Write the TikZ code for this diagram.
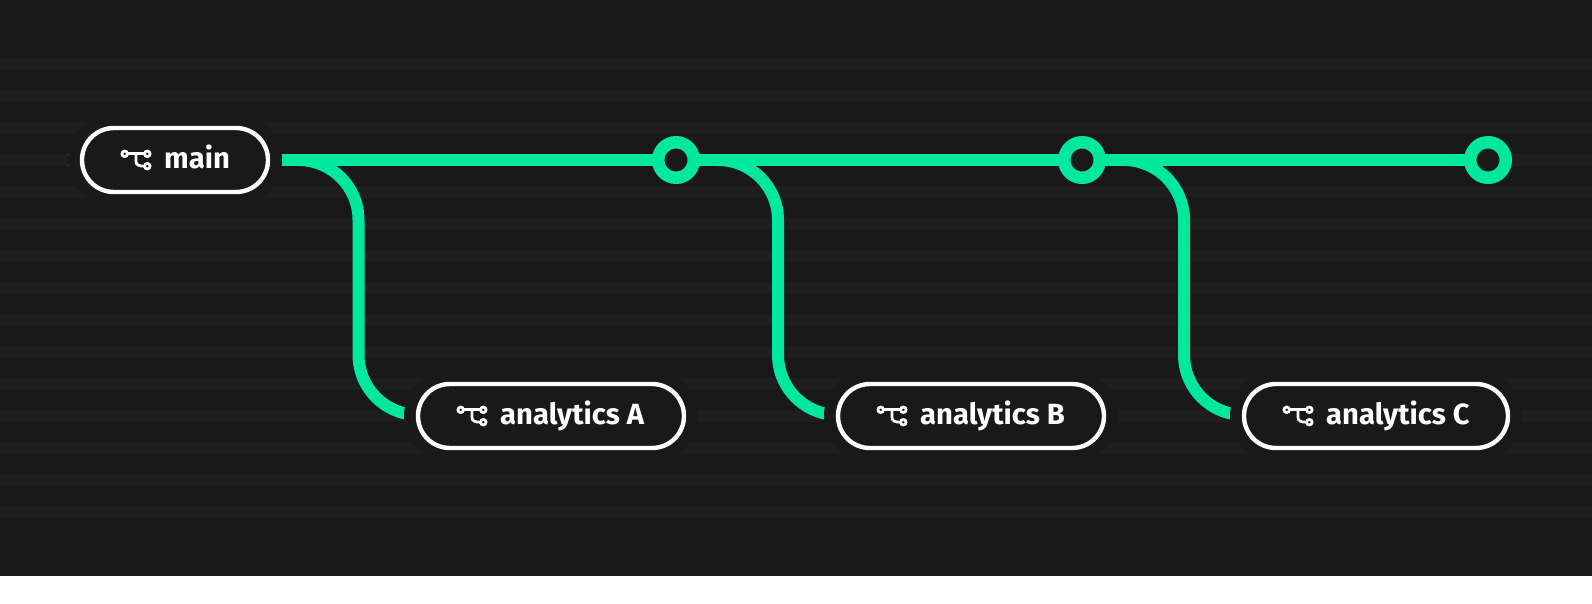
\documentclass[tikz,border=0pt]{standalone}
\usepackage{fontspec}
\setmainfont{Fira Sans}
\definecolor{bgdark}{HTML}{191919}
\definecolor{bgstripe}{HTML}{1E1E1E}
\definecolor{branchgreen}{HTML}{00E89E}
\tikzset{
  px/.style={x=1pt,y=-1pt},
  wire/.style={draw=branchgreen,line width=12pt},
  halo/.style={draw=none,fill=bgdark,rounded corners=45.9pt},
  pill/.style={draw=white,line width=4.4pt,fill=bgdark,rounded corners=31.9pt},
  commit/.style={circle,draw=branchgreen,line width=12.5pt,fill=bgdark,minimum size=35.5pt,inner sep=0pt,outer sep=0pt},
  lbl/.style={text=white,font=\fontsize{29.2}{30}\selectfont\bfseries,inner sep=0pt,anchor=base west},
  ico/.style={draw=white,line width=2.7pt,line cap=round,line join=round},
  icodot/.style={circle,draw=white,line width=2.7pt,fill=bgdark,minimum size=5.6pt,inner sep=0pt,outer sep=0pt},
}
\newcommand{\branchicon}[1]{%
  \begin{scope}[shift={(#1)}]
    \node[icodot] (i1) at (-11.3,-6.2) {};
    \node[icodot] (i2) at (11.3,-6.2) {};
    \node[icodot] (i3) at (11.3,6.2) {};
    \draw[ico] (i1) -- (i2);
    \draw[ico] (0,-6.2) -- (0,1.5) .. controls (0,5) and (3,6.2) .. (i3);
  \end{scope}}
\newcommand{\branchwire}[1]{%
  \draw[wire] (#1) arc[start angle=-90,end angle=0,radius=60] -- ++(0,135) arc[start angle=180,end angle=100,radius=60];}
\begin{document}
\begin{tikzpicture}[px]
\useasboundingbox (0,0) rectangle (1592,603);
\fill[white] (0,0) rectangle (1592,603);
\fill[bgdark] (0,0) rectangle (1592,576);
\foreach \y in {58,90,...,506} \fill[bgstripe] (0,\y) rectangle (1592,\y+12);
% anchors
\coordinate (start) at (67.5,160);
\coordinate (c1) at (676,160);
\coordinate (c2) at (1082,160);
\coordinate (c3) at (1488,160);
\coordinate (fork0) at (298.5,160);
\coordinate (fork1) at (718,160);
\coordinate (fork2) at (1124,160);
% wires
\draw[wire] (start) -- (c3);
\branchwire{fork0}
\branchwire{fork1}
\branchwire{fork2}
% halos
\fill[halo] (68,114) rectangle (282,206);
\fill[halo] (404,370) rectangle (698,462);
\fill[halo] (824,370) rectangle (1118,462);
\fill[halo] (1230,370) rectangle (1522,462);
% pills
\draw[pill] (82,128) rectangle (268,192);
\draw[pill] (418,384) rectangle (684,448);
\draw[pill] (838,384) rectangle (1104,448);
\draw[pill] (1244,384) rectangle (1508,448);
% commits
\node[commit] (n1) at (c1) {};
\node[commit] (n2) at (c2) {};
\node[commit] (n3) at (c3) {};
% labels
\branchicon{136,160}
\branchicon{472,416}
\branchicon{892,416}
\branchicon{1298,416}
\node[lbl] (mainlabel) at (164,168) {main};
\node[lbl] (la) at (500,424) {analytics A};
\node[lbl] (lb) at (920,424) {analytics B};
\node[lbl] (lc) at (1326,424) {analytics C};
\end{tikzpicture}
\end{document}
